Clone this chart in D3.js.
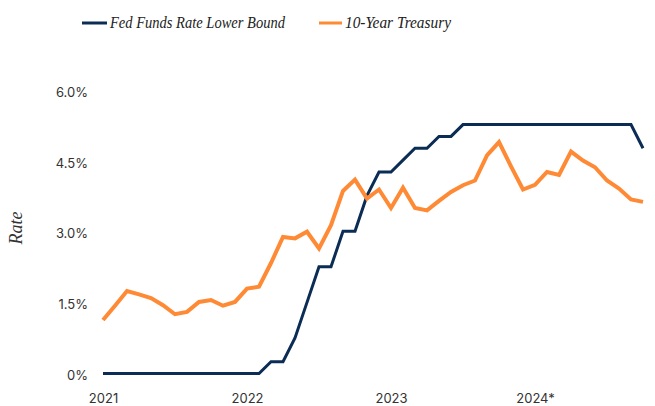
<!DOCTYPE html>
<html>
<head>
<meta charset="utf-8">
<script src="https://cdn.jsdelivr.net/npm/d3@7"></script>
<style>
  body { margin: 0; background: #fff; }
  svg { display: block; }
  .tick text { font-family: Inter, "Open Sans", sans-serif; font-size: 13px; fill: #333; }
</style>
</head>
<body>
<svg></svg>
<script>
    /* data, monthly Jan 2021 - Oct 2024 */
    let yearLabels = ["2021", "2022", "2023", "2024*"];
    let yearIndex = [0, 12, 24, 36];
    let rateTicks = [0, 1.5, 3, 4.5, 6];
    let rateLabels = ["0%", "1.5%", "3.0%", "4.5%", "6.0%"];

    let fedFunds = [
        0, 0, 0, 0, 0, 0, 0, 0, 0, 0, 0, 0,
        0, 0, 0.25, 0.25, 0.75, 1.5, 2.25, 2.25, 3.0, 3.0, 3.75, 4.25,
        4.25, 4.5, 4.75, 4.75, 5.0, 5.0, 5.25, 5.25, 5.25, 5.25, 5.25, 5.25,
        5.25, 5.25, 5.25, 5.25, 5.25, 5.25, 5.25, 5.25, 5.25, 4.75
    ];
    let treasury10 = [
        1.13, 1.43, 1.74, 1.67, 1.59, 1.44, 1.25, 1.30, 1.51, 1.55, 1.43, 1.51,
        1.79, 1.83, 2.33, 2.88, 2.85, 2.99, 2.64, 3.13, 3.85, 4.09, 3.69, 3.88,
        3.49, 3.92, 3.49, 3.44, 3.64, 3.83, 3.97, 4.07, 4.60, 4.88, 4.37, 3.88,
        3.98, 4.25, 4.19, 4.68, 4.49, 4.35, 4.07, 3.90, 3.67, 3.62
    ];

    let width = 655;
    let height = 406;
    const svg = d3.select("svg").attr("width", width).attr("height", height);

    let xScale = d3.scaleLinear().domain([0, fedFunds.length - 1]).range([103, 643]);
    let yScale = d3.scaleLinear().domain([0, 6]).range([373.5, 89]);

    // axes
    let xAxis = d3.axisBottom(xScale).tickValues(yearIndex)
        .tickFormat((d, i) => yearLabels[i]).tickSize(0).tickPadding(0);
    let gx = svg.append("g").attr("transform", "translate(0, 391)").call(xAxis);
    gx.select(".domain").remove();
    gx.selectAll(".tick text").attr("dy", "0.9em");

    // label ticks sit a bit lower than the data scale near the top
    let yLabelScale = d3.scaleLinear().domain([0, 6]).range([375, 92.5]);
    let yAxis = d3.axisLeft(yLabelScale).tickValues(rateTicks)
        .tickFormat((d, i) => rateLabels[i]).tickSize(0).tickPadding(0);
    let gy = svg.append("g").attr("transform", "translate(88, 0)").call(yAxis);
    gy.select(".domain").remove();

    svg.append("text")
        .attr("transform", "translate(22, 228) rotate(-90)")
        .attr("text-anchor", "middle")
        .style("font-family", "'Liberation Serif', serif")
        .style("font-style", "italic")
        .style("font-size", "18px")
        .style("fill", "#333")
        .text("Rate");

    // lines
    let line = d3.line().x((d, i) => xScale(i)).y((d) => yScale(d));

    svg.append("path").datum(fedFunds)
        .attr("d", line)
        .attr("fill", "none")
        .attr("stroke", "#0b2c55")
        .attr("stroke-width", 3);

    svg.append("path").datum(treasury10)
        .attr("d", line)
        .attr("fill", "none")
        .attr("stroke", "#ff8a35")
        .attr("stroke-width", 4);

    // legend
    let legend = [
        { name: "Fed Funds Rate Lower Bound", color: "#0b2c55", x: 82, w: 25, tw: 175 },
        { name: "10-Year Treasury", color: "#ff8a35", x: 319, w: 23, tw: 106 }
    ];
    let lg = svg.append("g").selectAll("g").data(legend).enter().append("g");
    lg.append("line")
        .attr("x1", (d) => d.x).attr("x2", (d) => d.x + d.w)
        .attr("y1", 23).attr("y2", 23)
        .attr("stroke", (d) => d.color).attr("stroke-width", 3);
    lg.append("text")
        .attr("x", (d) => d.x + d.w + 3)
        .attr("y", 28)
        .attr("textLength", (d) => d.tw)
        .attr("lengthAdjust", "spacingAndGlyphs")
        .style("font-family", "'Liberation Serif', serif")
        .style("font-style", "italic")
        .style("font-size", "17px")
        .style("fill", "#222")
        .text((d) => d.name);
</script>
</body>
</html>
